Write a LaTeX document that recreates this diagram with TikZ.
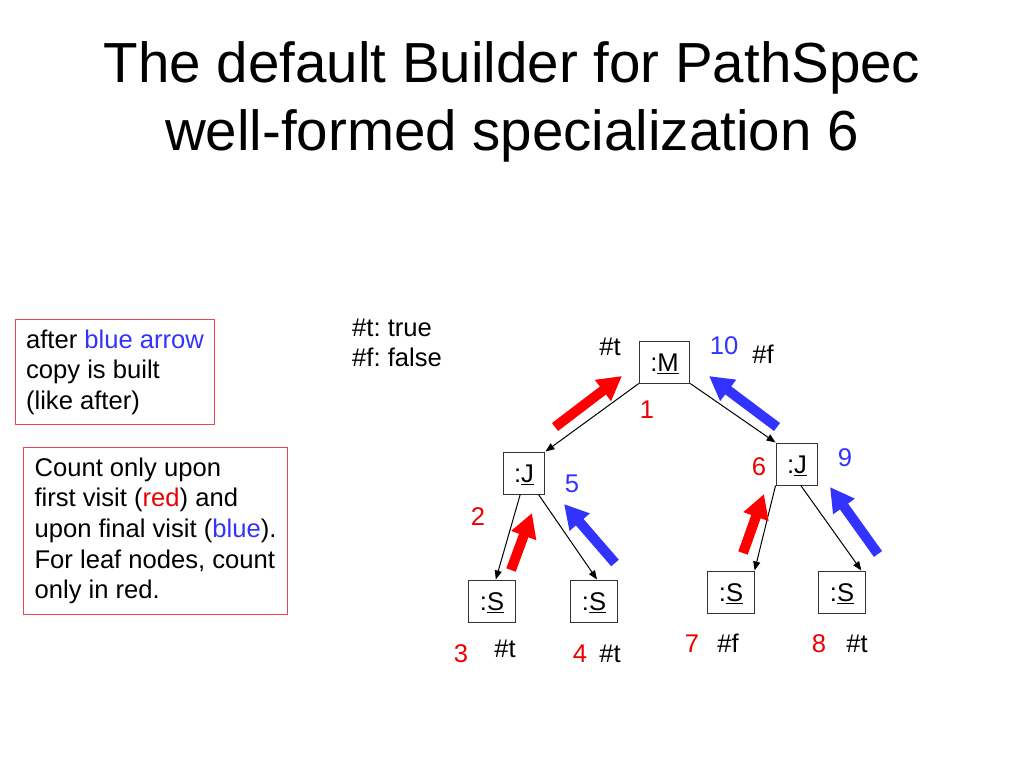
\documentclass[tikz,border=0pt]{standalone}
\usepackage{fontspec}
\setmainfont{Liberation Sans}
\usepackage{xcolor}
\usepackage{tikz}
\usetikzlibrary{shapes.geometric, arrows.meta}
\definecolor{numred}{RGB}{235,0,0}
\definecolor{numblue}{RGB}{51,51,255}
\definecolor{boxred}{RGB}{232,70,80}
\newcommand{\bodyfont}{\fontsize{25.6}{30.7}\selectfont\frenchspacing}
\tikzstyle{objbox} = [rectangle, draw=black!80, line width=1pt, inner xsep=11pt, minimum height=42pt, text height=19pt, text depth=0pt, font=\bodyfont]
\tikzstyle{notebox} = [rectangle, draw=boxred, line width=1.2pt, inner xsep=10.5pt, inner ysep=10pt, align=left, anchor=north west, font=\bodyfont]
\tikzstyle{lbl} = [inner sep=0pt, anchor=base, font=\bodyfont]
\tikzstyle{arrow} = [line width=1pt, -{Triangle[length=9pt,width=7pt]}]
\tikzstyle{bigred} = [line width=10pt, color=red, -{Triangle[length=24pt,width=25pt]}]
\tikzstyle{bigblue} = [line width=10pt, color=numblue, -{Triangle[length=24pt,width=25pt]}]

\begin{document}
\begin{tikzpicture}[x=1pt, y=-1pt, node distance=128pt]
\useasboundingbox (0,0) rectangle (1024,768);

\node (title) [inner sep=0pt, align=center, font=\fontsize{56.5}{67.5}\selectfont] at (512,102) {The default Builder for PathSpec\\well-formed specialization 6};

\node (note1) [notebox] at (15,319) {after \textcolor{numblue}{blue arrow}\\copy is built\\(like after)};
\node (note2) [notebox, inner xsep=11pt] at (23,447) {Count only upon\\first visit (\textcolor{numred}{red}) and\\upon final visit (\textcolor{numblue}{blue}).\\For leaf nodes, count\\only in red.};
\node (legend) [inner sep=0pt, align=left, anchor=north west, font=\bodyfont] at (352,318.5) {\#t: true\\\#f: false};

\node (m) [objbox] at (664.5,362) {:\underline{M}};
\node (jl) [objbox, below of=m, xshift=-140.5pt, yshift=17pt] {:\underline{J}};
\node (jr) [objbox, below of=m, xshift=132.5pt, yshift=26pt] {:\underline{J}};
\node (s1) [objbox, below of=jl, xshift=-32pt] {:\underline{S}};
\node (s2) [objbox, below of=jl, xshift=70pt] {:\underline{S}};
\node (s3) [objbox, below of=jr, xshift=-66pt] {:\underline{S}};
\node (s4) [objbox, below of=jr, xshift=45pt] {:\underline{S}};

\draw [arrow] (m.south west) -- (jl.north east);
\draw [arrow] (m.south east) -- (jr.north west);
\draw [arrow] (jl.-100) -- (s1.80);
\draw [arrow] (jl.-56) -- (s2.82);
\draw [arrow] (jr.south west) -- (s3.north east);
\draw [arrow] (jr.-80) -- (s4.48);

% visit arrows
\coordinate (r1a) at (555,427);  \coordinate (r1b) at (622,376);
\coordinate (b10a) at (777,427); \coordinate (b10b) at (709,376);
\coordinate (r2a) at (511,570);  \coordinate (r2b) at (532,513);
\coordinate (b5a) at (615,563);  \coordinate (b5b) at (564,504);
\coordinate (r6a) at (743,553);  \coordinate (r6b) at (764,494);
\coordinate (b9a) at (878,554);  \coordinate (b9b) at (830,487);
\draw [bigred] (r1a) -- (r1b);
\draw [bigblue] (b10a) -- (b10b);
\draw [bigred] (r2a) -- (r2b);
\draw [bigblue] (b5a) -- (b5b);
\draw [bigred] (r6a) -- (r6b);
\draw [bigblue] (b9a) -- (b9b);

% counters and results
\node (tm) [lbl] at (610,355) {\#t};
\node (n10) [lbl, numblue] at (724,354) {10};
\node (fm) [lbl] at (763,363) {\#f};
\node (n1) [lbl, numred] at (647,418) {1};
\node (n5) [lbl, numblue] at (572,492) {5};
\node (n6) [lbl, numred] at (759,475) {6};
\node (n9) [lbl, numblue] at (845,466) {9};
\node (n2) [lbl, numred] at (478,525) {2};
\node (n3) [lbl, numred] at (461,662) {3};
\node (t3) [lbl] at (505,657) {\#t};
\node (n4) [lbl, numred] at (580,662) {4};
\node (t4) [lbl] at (610,662) {\#t};
\node (n7) [lbl, numred] at (692,652) {7};
\node (f7) [lbl] at (728,652) {\#f};
\node (n8) [lbl, numred] at (819,652) {8};
\node (t8) [lbl] at (857,652) {\#t};

\end{tikzpicture}
\end{document}
